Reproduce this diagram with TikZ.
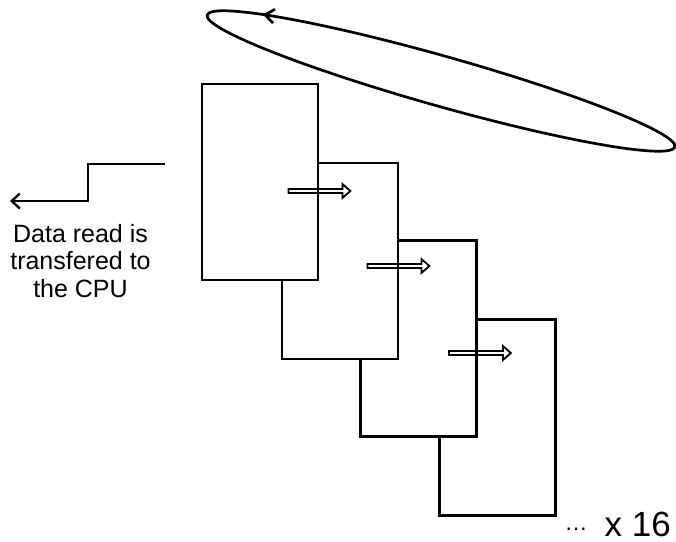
\documentclass[tikz,border=0pt]{standalone}
\usepackage{fontspec}
\setmainfont{Liberation Sans}
\usetikzlibrary{arrows.meta, calc, decorations.markings}
\definecolor{loopfill}{RGB}{255,253,255}

% hollow block arrow from #1 to its tip #2 (horizontal)
\newcommand{\pusharrow}[2]{%
  \draw[pusher] ($(#1)+(0,-2)$) -- ($(#2)+(-8,-2)$) -- ($(#2)+(-8,-7)$) -- (#2)
    -- ($(#2)+(-8,7)$) -- ($(#2)+(-8,2)$) -- ($(#1)+(0,2)$) -- cycle;}

\begin{document}
\begin{tikzpicture}[x=1pt, y=-1pt,
    bank/.style={rectangle, draw=black, fill=white, line width=2.8pt, minimum width=116pt, minimum height=196pt, inner sep=0pt},
    pusher/.style={draw=black, line width=1.8pt, line join=miter},
    wire/.style={line width=2.4pt, -{Straight Barb[length=8pt, width=15pt]}},
    note/.style={align=center, font=\fontsize{25}{27.5}\selectfont}
]
\useasboundingbox (0,0) rectangle (676,541);

% the refresh loop above the banks
\draw[line width=2.7pt, fill=loopfill, rotate around={-15.75:(441,81)},
    postaction={decorate},
    decoration={markings, mark=at position 0.558 with {\arrowreversed{Straight Barb[length=9pt, width=14pt]}}}]
    (441,81) ellipse [x radius=243, y radius=25];

% the 16 banks, back to front
\node[bank] (bank4) at (497.5,417.5) {};
\node[bank] (bank3) at (418.5,338.5) {};
\node[bank] (bank2) at (340,261) {};
\node[bank] (bank1) at (260,182) {};

\coordinate (push1s) at ($(bank1.east)+(-31,9)$);
\coordinate (push1e) at ($(bank1.east)+(31,9)$);
\coordinate (push2s) at ($(bank2.east)+(-32,5)$);
\coordinate (push2e) at ($(bank2.east)+(30,5)$);
\coordinate (push3s) at ($(bank3.east)+(-29,14.5)$);
\coordinate (push3e) at ($(bank3.east)+(33,14.5)$);
\pusharrow{push1s}{push1e}
\pusharrow{push2s}{push2e}
\pusharrow{push3s}{push3e}

% output to the CPU
\coordinate (busin) at (165,164);
\coordinate (busout) at (10,201);
\draw[wire] (busin) -- ++(-77,0) |- (busout);
\node[note] (cpu) at (80.5,261) {Data read is\\transfered to\\the CPU};

\node[anchor=base west, inner sep=0pt] (count) at (564.5,536)
  {\raisebox{6pt}{\fontsize{23}{27}\selectfont …}\hspace{17pt}{\fontsize{35}{40}\selectfont x 16}};
\end{tikzpicture}
\end{document}
